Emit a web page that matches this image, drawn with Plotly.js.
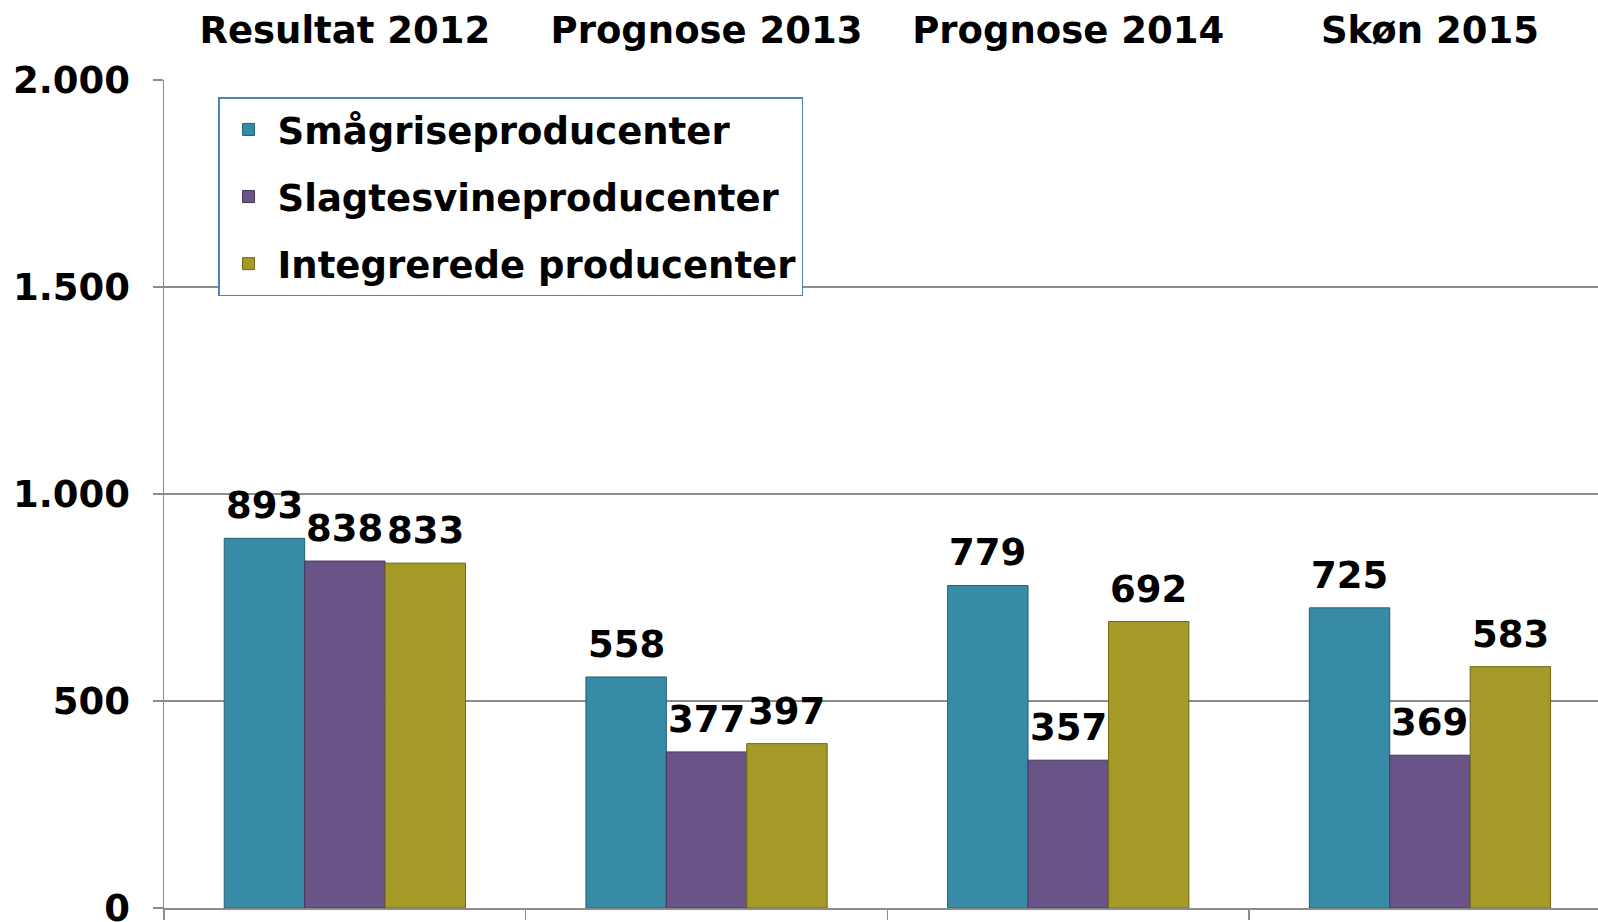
<!DOCTYPE html>
<html>
<head>
<meta charset="utf-8">
<script src="https://cdn.plot.ly/plotly-3.0.1.min.js"></script>
<style>html,body{margin:0;padding:0;background:#fff;}#chart{width:1598px;height:922px;}</style>
</head>
<body>
<div id="chart"></div>
<script>
const categories = ["Resultat 2012", "Prognose 2013", "Prognose 2014", "Skøn 2015"];
const seriesNames = ["Smågriseproducenter", "Slagtesvineproducenter", "Integrerede producenter"];
const smaagrise = [893, 558, 779, 725];
const slagtesvine = [838, 377, 357, 369];
const integrerede = [833, 397, 692, 583];
const yTickVals = [0, 500, 1000, 1500, 2000];

const colors = ["#378BA6", "#6A5387", "#A59A27"];
const lineColors = ["#23606F", "#463659", "#6E6718"];
const seriesValues = [smaagrise, slagtesvine, integrerede];
const FONT = {family: "DejaVu Sans, Verdana, sans-serif", weight: "bold", color: "#000", size: 37};

const BARGAP = 0.333;
const nSeries = seriesValues.length;
const barW = (1 - BARGAP) / nSeries;

const traces = seriesValues.map((vals, i) => ({
  type: "bar",
  name: seriesNames[i],
  x: categories,
  y: vals,
  xaxis: "x",
  yaxis: "y",
  legendgroup: "g" + i,
  marker: {color: colors[i], line: {color: lineColors[i], width: 1}},
  hoverinfo: "skip"
}));

// invisible helper trace for the bottom axis with boundary ticks
traces.push({
  type: "scatter",
  x: categories,
  y: [0, 0, 0, 0],
  xaxis: "x2",
  yaxis: "y",
  mode: "markers",
  marker: {opacity: 0},
  showlegend: false,
  hoverinfo: "skip"
});

// value labels placed above each bar, in data coordinates
const annotations = [];
seriesValues.forEach((vals, i) => {
  vals.forEach((v, c) => {
    annotations.push({
      xref: "x", yref: "y",
      x: c + (i - (nSeries - 1) / 2) * barW,
      y: v,
      text: String(v),
      showarrow: false,
      xanchor: "center",
      yanchor: "bottom",
      yshift: 9,
      font: FONT
    });
  });
});

const xr = [-0.5, 3.4646];
const layout = {
  width: 1598,
  height: 922,
  margin: {l: 164, r: 0, t: 80, b: 14, pad: 0},
  paper_bgcolor: "#fff",
  plot_bgcolor: "#fff",
  font: FONT,
  separators: ",.",
  barmode: "group",
  bargap: BARGAP,
  bargroupgap: 0,
  showlegend: true,
  annotations: annotations,
  legend: {
    x: 0.0377, y: 0.979, xanchor: "left", yanchor: "top",
    bgcolor: "#fff", bordercolor: "#4F81BD", borderwidth: 1.5,
    font: FONT, traceorder: "grouped", tracegroupgap: 16, itemwidth: 48
  },
  xaxis: {
    type: "category",
    side: "top",
    range: xr,
    showgrid: false,
    zeroline: false,
    showline: false,
    ticks: "",
    tickfont: FONT,
    ticklabelstandoff: 29,
    fixedrange: true
  },
  xaxis2: {
    type: "category",
    overlaying: "x",
    anchor: "y",
    side: "bottom",
    range: xr,
    showgrid: false,
    zeroline: false,
    showline: true,
    linecolor: "#8C8C8C",
    linewidth: 1.5,
    ticks: "outside",
    tickson: "boundaries",
    ticklen: 10,
    tickwidth: 1.5,
    tickcolor: "#8C8C8C",
    showticklabels: false,
    fixedrange: true
  },
  yaxis: {
    range: [0, 2000],
    tickvals: yTickVals,
    tickformat: ",d",
    showgrid: true,
    gridcolor: "#8C8C8C",
    gridwidth: 1.5,
    zeroline: false,
    showline: true,
    linecolor: "#8C8C8C",
    linewidth: 1.5,
    ticks: "outside",
    ticklen: 10,
    tickwidth: 1.5,
    tickcolor: "#8C8C8C",
    tickfont: FONT,
    ticklabelstandoff: 15,
    ticklabeloverflow: "allow",
    fixedrange: true
  }
};

Plotly.newPlot("chart", traces, layout, {displayModeBar: false, staticPlot: true});
</script>
</body>
</html>
